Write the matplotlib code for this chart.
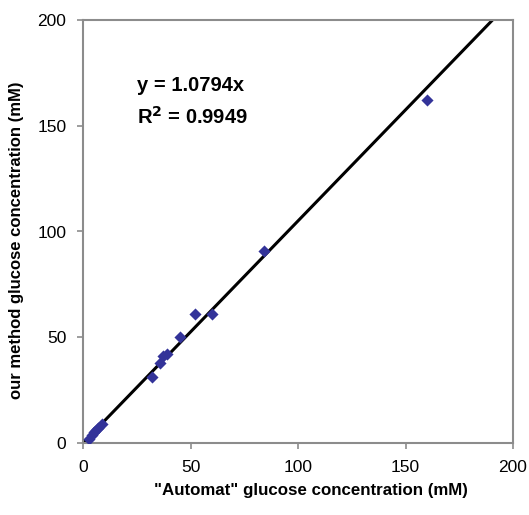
import matplotlib
matplotlib.use("Agg")
import matplotlib.pyplot as plt
import numpy as np

plt.rcParams['font.family'] = ['Liberation Sans', 'DejaVu Sans']

automat = [3, 4, 5, 6, 7, 9, 32, 36, 37, 39, 45, 52, 60, 84, 160]
method = [2, 4, 5, 6, 7, 9, 31, 38, 41, 42, 50, 61, 61, 91, 162]
eq_slope = 1.0794     # printed trendline equation
line_slope = 1.05     # slope of the drawn line as it appears in the picture
r2 = 0.9949
xticks = [0, 50, 100, 150, 200]
yticks = [0, 50, 100, 150, 200]

fig = plt.figure(figsize=(5.29, 5.15), dpi=100)
ax = fig.add_axes([83/529, 1-443/515, 430/529, 423/515])

xl = np.array([0, 200])
ax.plot(xl, line_slope*xl, color='black', lw=2.2, zorder=2)
ax.scatter(automat, method, marker='D', s=38, color='#333399', zorder=3, linewidths=0)

ax.set_xlim(0, 200)
ax.set_ylim(0, 200)
ax.set_xticks(xticks)
ax.set_yticks(yticks)
for s in ax.spines.values():
    s.set_color('#8c8c8c')
    s.set_linewidth(1.5)
ax.tick_params(direction='out', length=4, color='#8c8c8c', width=1.2, labelsize=12.5, pad=8)

ax.set_xlabel('"Automat" glucose concentration (mM)', fontsize=12.2, fontweight='bold')
ax.set_ylabel('our method glucose concentration (mM)', fontsize=12, fontweight='bold')
ax.xaxis.set_label_coords(0.53, -0.095)
ax.yaxis.set_label_coords(-0.137, 0.48)

ax.text(25, 169, 'y = %.4fx' % eq_slope, fontsize=14.5, fontweight='bold', ha='left', va='center')
ax.text(25, 154, r'R$^\mathbf{2}$ = %.4f' % r2, fontsize=14.5, fontweight='bold', ha='left', va='center')

fig.savefig('out.png', dpi=100)
